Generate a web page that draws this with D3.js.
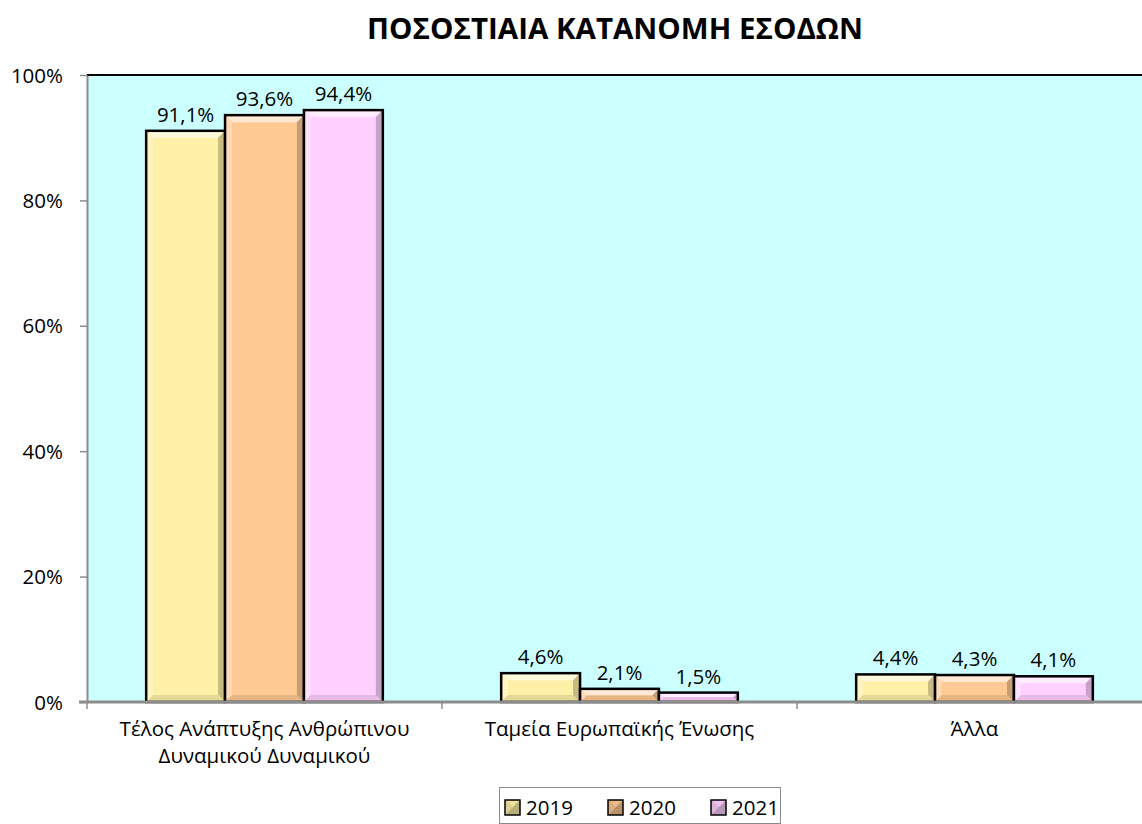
<!DOCTYPE html>
<html><head><meta charset="utf-8">
<script src="https://cdn.jsdelivr.net/npm/d3@7"></script>
<style>body{margin:0;background:#fff;overflow:hidden}text{font-family:"Open Sans","Noto Sans",sans-serif}</style>
</head><body>
<svg id="c" width="1142" height="824"></svg>
<script>
const categories = ["Τέλος Ανάπτυξης Ανθρώπινου|Δυναμικού Δυναμικού", "Ταμεία Ευρωπαϊκής Ένωσης", "Άλλα"];
const years = ["2019", "2020", "2021"];
const v2019 = [91.1, 4.6, 4.4];
const v2020 = [93.6, 2.1, 4.3];
const v2021 = [94.4, 1.5, 4.1];
const yTicks = [0, 20, 40, 60, 80, 100];
const colors = ["#FFF0A8", "#FFC994", "#FFD0FF"];
const series = [v2019, v2020, v2021];
const FS = 20.5;

const svg = d3.select("#c");
const m = {l: 87, t: 75, r: 1152, b: 702};
const x0 = d3.scaleBand().domain(categories).range([m.l, m.r]).paddingInner(0).paddingOuter(0);
const barW = x0.bandwidth() / (3 + 1.5);
const x1 = d3.scaleBand().domain(years).range([barW * 0.75, barW * 0.75 + 3 * barW]);
const y = d3.scaleLinear().domain([0, 100]).range([m.b, m.t]);

// title
svg.append("text").attr("x", 615).attr("y", 39).attr("text-anchor", "middle")
  .attr("font-size", 29).attr("font-weight", "bold").attr("fill", "#000")
  .attr("textLength", 496).attr("lengthAdjust", "spacingAndGlyphs")
  .text("ΠΟΣΟΣΤΙΑΙΑ ΚΑΤΑΝΟΜΗ ΕΣΟΔΩΝ");

// plot area
svg.append("rect").attr("x", m.l).attr("y", m.t).attr("width", m.r - m.l).attr("height", m.b - m.t).attr("fill", "#CCFFFF");
svg.append("line").attr("x1", m.l).attr("x2", 1142).attr("y1", m.t).attr("y2", m.t).attr("stroke", "#000").attr("stroke-width", 2);

// y axis
const yAxis = svg.append("g").attr("transform", `translate(${m.l},0)`)
  .call(d3.axisLeft(y).tickValues(yTicks).tickFormat(d => d + "%").tickSize(7).tickSizeOuter(0));
yAxis.select(".domain").attr("stroke", "#8c8c8c").attr("stroke-width", 2);
yAxis.selectAll(".tick line").attr("stroke", "#8c8c8c").attr("stroke-width", 1.5);
yAxis.selectAll(".tick text").attr("font-size", FS).attr("fill", "#000").attr("x", -24).attr("dy", "0.35em");

// bars
const bevel = 7;
categories.forEach((c, ci) => {
  years.forEach((yr, si) => {
    const v = series[si][ci];
    const bx = x0(c) + x1(yr), by = y(v), bw = x1.bandwidth(), bh = y(0) - y(v);
    const g = svg.append("g");
    g.append("rect").attr("x", bx).attr("y", by).attr("width", bw).attr("height", bh).attr("fill", colors[si]);
    const b = Math.min(bevel, bh / 2);
    const x2 = bx + bw, y2 = by + bh;
    const base = d3.color(colors[si]);
    const light = d3.interpolateRgb(base, "#fff")(0.6);
    const dark = base.darker(0.7);
    const mid = base.darker(0.3);
    g.append("polygon").attr("points", [[bx,by],[x2,by],[x2-b,by+b],[bx+b,by+b]].join(" ")).attr("fill", light);
    g.append("polygon").attr("points", [[bx,by],[bx+b,by+b],[bx+b,y2-b],[bx,y2]].join(" ")).attr("fill", d3.interpolateRgb(base, "#fff")(0.3));
    g.append("polygon").attr("points", [[x2,by],[x2,y2],[x2-b,y2-b],[x2-b,by+b]].join(" ")).attr("fill", dark);
    g.append("polygon").attr("points", [[bx,y2],[x2,y2],[x2-b,y2-b],[bx+b,y2-b]].join(" ")).attr("fill", mid);
    g.append("rect").attr("x", bx).attr("y", by).attr("width", bw).attr("height", bh)
      .attr("fill", "none").attr("stroke", "#000").attr("stroke-width", 2.5);
    svg.append("text").attr("x", bx + bw / 2).attr("y", by - 9).attr("text-anchor", "middle")
      .attr("font-size", FS).attr("fill", "#000").text(v.toFixed(1).replace(".", ",") + "%");
  });
});

// x axis
const xAxis = svg.append("g").attr("transform", `translate(0,${m.b})`)
  .call(d3.axisBottom(x0).tickSize(0).tickFormat(""));
xAxis.select(".domain").attr("stroke", "#8c8c8c").attr("stroke-width", 3).attr("d", `M${m.l - 8},0H1142`);
const tickPos = categories.map(c => x0(c)).concat([m.r]);
tickPos.forEach(tx => svg.append("line").attr("x1", tx).attr("x2", tx).attr("y1", m.b).attr("y2", m.b + 7).attr("stroke", "#8c8c8c").attr("stroke-width", 1.5));
categories.forEach(c => {
  const lines = c.split("|");
  lines.forEach((ln, i) => svg.append("text").attr("text-anchor", "middle").attr("font-size", FS).attr("fill", "#000")
    .attr("x", x0(c) + x0.bandwidth() / 2).attr("y", 736 + i * 27).text(ln));
});

// legend
svg.append("rect").attr("x", 499.5).attr("y", 787.5).attr("width", 281).attr("height", 36).attr("fill", "#fff").attr("stroke", "#8c8c8c").attr("stroke-width", 1);
const lx = [505, 608, 711];
years.forEach((yr, i) => {
  const base = d3.color(colors[i]);
  const sx = lx[i], sy = 800, s = 15;
  svg.append("rect").attr("x", sx).attr("y", sy).attr("width", s).attr("height", s).attr("fill", base.darker(0.9));
  svg.append("polygon").attr("points", [[sx,sy],[sx+s,sy],[sx+s/2,sy+s/2]].join(" ")).attr("fill", base.darker(0.2));
  svg.append("polygon").attr("points", [[sx,sy],[sx,sy+s],[sx+s/2,sy+s/2]].join(" ")).attr("fill", base.darker(0.4));
  svg.append("rect").attr("x", sx).attr("y", sy).attr("width", s).attr("height", s).attr("fill", "none").attr("stroke", "#000").attr("stroke-width", 1.5);
  svg.append("text").attr("x", sx + 21).attr("y", 815).attr("font-size", FS).attr("fill", "#000").text(yr);
});
</script>
</body></html>
